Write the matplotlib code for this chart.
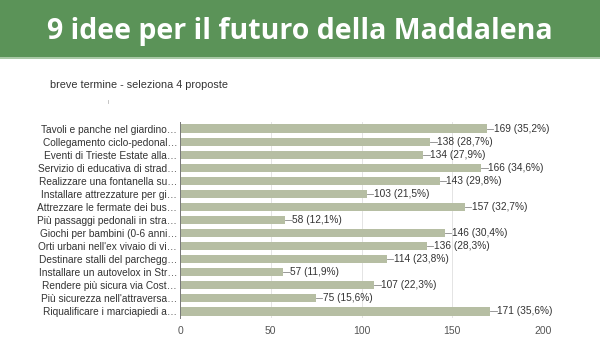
import matplotlib.pyplot as plt
from matplotlib.patches import Rectangle
from matplotlib.lines import Line2D

# Dati
proposte = [
    "Tavoli e panche nel giardino…",
    "Collegamento ciclo-pedonal…",
    "Eventi di Trieste Estate alla…",
    "Servizio di educativa di strad…",
    "Realizzare una fontanella su…",
    "Installare attrezzature per gi…",
    "Attrezzare le fermate dei bus…",
    "Più passaggi pedonali in stra…",
    "Giochi per bambini (0-6 anni…",
    "Orti urbani nell'ex vivaio di vi…",
    "Destinare stalli del parchegg…",
    "Installare un autovelox in Str…",
    "Rendere più sicura via Cost…",
    "Più sicurezza nell'attraversa…",
    "Riqualificare i marciapiedi a…",
]
voti = [169, 138, 134, 166, 143, 103, 157, 58, 146, 136, 114, 57, 107, 75, 171]
percentuali = ["35,2%", "28,7%", "27,9%", "34,6%", "29,8%", "21,5%", "32,7%", "12,1%",
               "30,4%", "28,3%", "23,8%", "11,9%", "22,3%", "15,6%", "35,6%"]
xticks = [0, 50, 100, 150, 200]

plt.rcParams['font.family'] = ['Liberation Sans', 'DejaVu Sans']

fig = plt.figure(figsize=(6, 3.38), dpi=100)
W, H = 600, 338

# Banner verde
fig.add_artist(Rectangle((0, 1 - 57 / H), 1, 57 / H, transform=fig.transFigure,
                         facecolor='#5b9358', edgecolor='none'))
fig.add_artist(Rectangle((0, 1 - 59 / H), 1, 2 / H, transform=fig.transFigure,
                         facecolor='#a9c8a6', edgecolor='none'))
fig.text(0.5, 1 - 31 / H, "9 idee per il futuro della Maddalena", ha='center', va='center',
         color='white', fontsize=20.5, fontweight='bold', family=['Open Sans', 'DejaVu Sans'])

fig.text(50 / W, 1 - 85 / H, "breve termine - seleziona 4 proposte", ha='left', va='center',
         color='#333333', fontsize=7.8)
fig.add_artist(Line2D([108 / W, 108 / W], [1 - 100 / H, 1 - 103 / H], transform=fig.transFigure,
                      color='#bbbbbb', lw=0.6))

# Grafico
left, right = 180 / W, 543 / W
top, bottom = 1 - 122 / H, 1 - 318 / H
ax = fig.add_axes([left, bottom, right - left, top - bottom])
y = list(range(len(voti)))
ax.barh(y, voti, height=0.62, color='#b6bea3', zorder=2)
ax.set_ylim(len(voti) - 0.5, -0.5)
ax.set_xlim(0, 200)
ax.set_xticks(xticks)
ax.set_yticks(y)
ax.set_yticklabels(proposte)
ax.tick_params(axis='y', length=0, pad=2, labelsize=7.3, labelcolor='#333333')
ax.tick_params(axis='x', length=0, pad=6, labelsize=7.5, labelcolor='#555555')
ax.grid(axis='x', color='#e4e4e4', lw=0.7, zorder=0)
for s in ['top', 'right', 'bottom']:
    ax.spines[s].set_visible(False)
ax.spines['left'].set_color('#777777')
ax.spines['left'].set_linewidth(0.7)

for i, (v, p) in enumerate(zip(voti, percentuali)):
    ax.plot([v, v + 3.5], [i, i], color='#888888', lw=0.6, zorder=3)
    ax.text(v + 3.8, i, f"{v} ({p})", va='center', ha='left', fontsize=7.3, color='#333333')

plt.savefig('out.png', dpi=100)
